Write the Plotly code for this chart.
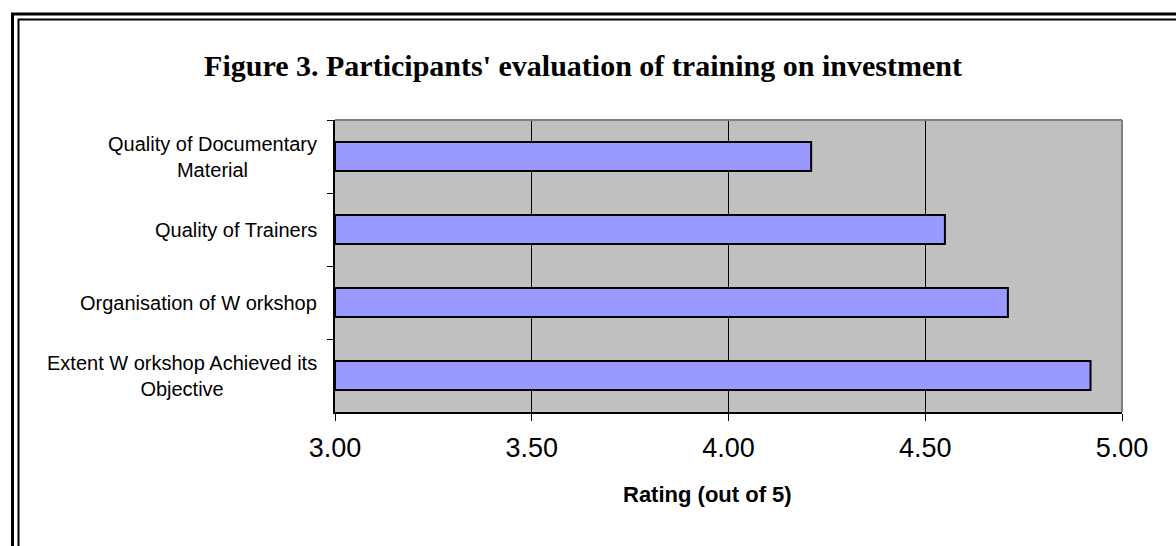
import plotly.graph_objects as go

categories = [
    "Quality of Documentary<br>Material",
    "Quality of Trainers",
    "Organisation of W orkshop",
    "Extent W orkshop Achieved its<br>Objective",
]
ratings = [4.21, 4.55, 4.71, 4.92]
x_ticks = [3.0, 3.5, 4.0, 4.5, 5.0]
x_tick_labels = ["3.00", "3.50", "4.00", "4.50", "5.00"]

W, H = 1176, 546
L, R, T, B = 335, 1122, 120, 412

fig = go.Figure()
fig.add_trace(go.Bar(
    y=categories, x=[r - 3.0 for r in ratings], base=3.0, orientation="h",
    width=0.4,
    marker=dict(color="#9999FF", line=dict(color="black", width=2)),
    hoverinfo="skip",
))

def px_x(p):
    return (p - L) / (R - L)

def px_y(p):
    return (B - p) / (B - T)

shapes = [
    dict(type="line", xref="paper", yref="paper", x0=0, x1=1, y0=1, y1=1,
         line=dict(color="#808080", width=2)),
    dict(type="line", xref="paper", yref="paper", x0=1, x1=1, y0=0, y1=1,
         line=dict(color="#808080", width=2)),
    dict(type="rect", xref="paper", yref="paper",
         x0=px_x(12.5), x1=px_x(1200), y0=px_y(14), y1=px_y(570),
         line=dict(color="black", width=3)),
    dict(type="rect", xref="paper", yref="paper",
         x0=px_x(18.5), x1=px_x(1194), y0=px_y(19.5), y1=px_y(564),
         line=dict(color="black", width=2)),
]

annotations = []
for c in categories:
    annotations.append(dict(
        x=0, xref="paper", y=c, yref="y", xanchor="right", yanchor="middle",
        xshift=-16, text=c, showarrow=False, align="center",
        font=dict(family="Liberation Sans, Arial", size=20, color="black"),
    ))
annotations.append(dict(
    x=px_x(707), xref="paper", y=px_y(494), yref="paper",
    xanchor="center", yanchor="middle", showarrow=False,
    text="<b>Rating (out of 5)</b>",
    font=dict(family="Liberation Sans, Arial", size=22, color="black"),
))

fig.update_layout(
    width=W, height=H,
    margin=dict(l=L, r=W - R, t=T, b=H - B, pad=0),
    paper_bgcolor="white",
    plot_bgcolor="#C0C0C0",
    showlegend=False,
    title=dict(
        text="<b>Figure 3. Participants' evaluation of training on investment</b>",
        x=583 / W, xref="container", xanchor="center",
        y=1 - 65 / H, yref="container", yanchor="middle",
        font=dict(family="Liberation Serif, Times New Roman", size=30, color="black"),
    ),
    xaxis=dict(
        range=[3.0, 5.0], tickvals=x_ticks, ticktext=x_tick_labels,
        showgrid=True, gridcolor="black", gridwidth=1,
        showline=True, linecolor="black", linewidth=2,
        ticks="outside", ticklen=7, tickcolor="black", tickwidth=1,
        ticklabelstandoff=4,
        tickfont=dict(family="Liberation Sans, Arial", size=27, color="black"),
        zeroline=False,
        fixedrange=True,
    ),
    yaxis=dict(
        type="category", categoryorder="array", categoryarray=categories,
        autorange="reversed",
        showticklabels=False, tickson="boundaries",
        ticks="outside", ticklen=6, tickcolor="black", tickwidth=1,
        showgrid=False, showline=True, linecolor="black", linewidth=2,
        fixedrange=True,
    ),
    shapes=shapes,
    annotations=annotations,
)

fig.write_html(
    "out.html",
    config={"displayModeBar": False},
    post_script="document.body.style.margin='0';document.body.style.overflow='hidden';",
)
